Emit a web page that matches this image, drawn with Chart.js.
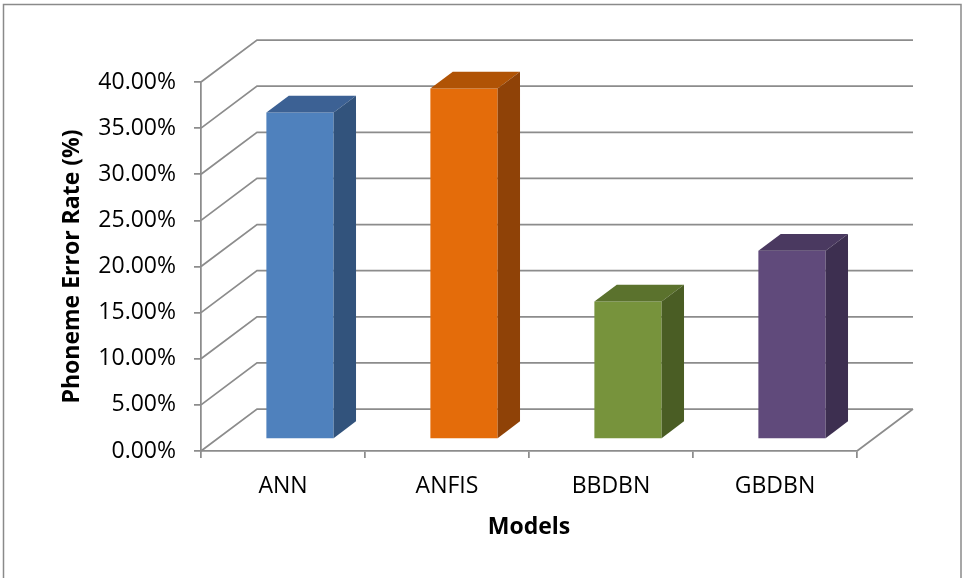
<!DOCTYPE html>
<html>
<head>
<meta charset="utf-8">
<title>Phoneme Error Rate by Model</title>
<script src="https://cdn.jsdelivr.net/npm/chart.js@4.4.0/dist/chart.umd.min.js"></script>
<style>
  html, body { margin: 0; padding: 0; background: #ffffff; }
  canvas { display: block; }
</style>
</head>
<body>
<canvas id="chart" width="964" height="578"></canvas>
<script>
// ---- data ----
const categories = ['ANN', 'ANFIS', 'BBDBN', 'GBDBN'];
const errorRates = [35.4, 38.0, 14.9, 20.4];
const yTickValues = [0, 5, 10, 15, 20, 25, 30, 35, 40];

// ---- styles ----
const frontColors = ['#4F81BD', '#E46C0A', '#77933C', '#604A7B'];
const topColors   = ['#3C6194', '#B05305', '#5B722D', '#4A3960'];
const sideColors  = ['#32537C', '#8F4207', '#4A5D24', '#3D2F50'];
const GRID = '#8c8c8c';
const LINE_W = 1.75;
const FONT = 'Open Sans';

// oblique projection used for the depth axis of the 3-D box
const DEPTH = { x: 56, y: -42 };
const BAR_FRONT = 0.3;   // bars sit in the middle of the depth
const BAR_BACK = 0.7;

const box3d = {
  id: 'box3d',
  beforeDraw(chart) {
    const { ctx } = chart;
    ctx.save();
    ctx.strokeStyle = '#8a8a8a';
    ctx.lineWidth = 1.5;
    ctx.strokeRect(3.5, 4.5, chart.width - 6.5, chart.height + 20);
    ctx.restore();
  },
  beforeDatasetsDraw(chart) {
    const { ctx, chartArea: a, scales: { y } } = chart;
    ctx.save();
    ctx.strokeStyle = GRID;
    ctx.lineWidth = LINE_W;
    ctx.beginPath();
    // side wall diagonals and back wall gridlines
    y.ticks.forEach(t => {
      const py = y.getPixelForValue(t.value);
      ctx.moveTo(a.left, py);
      ctx.lineTo(a.left + DEPTH.x, py + DEPTH.y);
      ctx.lineTo(a.right + DEPTH.x, py + DEPTH.y);
    });
    // right edge of the floor
    ctx.moveTo(a.right, a.bottom);
    ctx.lineTo(a.right + DEPTH.x, a.bottom + DEPTH.y);
    ctx.stroke();
    ctx.restore();

    // front faces of the bars are drawn on the plane inside the box
    ctx.save();
    ctx.translate(Math.round(DEPTH.x * BAR_FRONT), Math.floor(DEPTH.y * BAR_FRONT) + 1);
  },
  afterDatasetsDraw(chart) {
    const { ctx } = chart;
    ctx.restore();
    const ox = Math.round(DEPTH.x * BAR_FRONT);
    const oy = Math.floor(DEPTH.y * BAR_FRONT) + 1;
    const dx = DEPTH.x * (BAR_BACK - BAR_FRONT);
    const dy = DEPTH.y * (BAR_BACK - BAR_FRONT);
    const meta = chart.getDatasetMeta(0);
    meta.data.forEach((bar, i) => {
      const { x, y, base, width } = bar.getProps(['x', 'y', 'base', 'width'], true);
      const l = x - width / 2 + ox, r = x + width / 2 + ox;
      const t = y + oy, b = base + oy;
      // top face
      ctx.fillStyle = topColors[i];
      ctx.beginPath();
      ctx.moveTo(l, t);
      ctx.lineTo(l + dx, t + dy);
      ctx.lineTo(r + dx, t + dy);
      ctx.lineTo(r, t);
      ctx.closePath();
      ctx.fill();
      // right side face
      ctx.fillStyle = sideColors[i];
      ctx.beginPath();
      ctx.moveTo(r, t);
      ctx.lineTo(r + dx, t + dy);
      ctx.lineTo(r + dx, b + dy);
      ctx.lineTo(r, b);
      ctx.closePath();
      ctx.fill();
    });
  }
};

new Chart(document.getElementById('chart'), {
  type: 'bar',
  data: {
    labels: categories,
    datasets: [{
      data: errorRates,
      backgroundColor: frontColors,
      borderWidth: 0,
      categoryPercentage: 1.0,
      barPercentage: 0.41
    }]
  },
  options: {
    responsive: false,
    animation: false,
    devicePixelRatio: 1,
    layout: { padding: { top: 82, right: 107, bottom: 0, left: 0 } },
    plugins: {
      legend: { display: false },
      tooltip: { enabled: false }
    },
    scales: {
      x: {
        type: 'category',
        offset: true,
        afterFit: s => { s.height = 127; },
        grid: {
          display: true,
          offset: true,
          drawOnChartArea: false,
          drawTicks: true,
          tickLength: 7,
          color: GRID,
          lineWidth: LINE_W
        },
        border: { display: true, color: GRID, width: LINE_W },
        ticks: {
          color: '#000000',
          font: { family: FONT, size: 23 },
          padding: 15,
          maxRotation: 0,
          autoSkip: false
        },
        title: {
          display: true,
          text: 'Models',
          color: '#000000',
          font: { family: FONT, size: 23, weight: 'bold' },
          padding: { top: 0, bottom: 37 }
        }
      },
      y: {
        min: 0,
        max: 40,
        afterFit: s => { s.width = 201; },
        afterBuildTicks: s => { s.ticks = yTickValues.map(v => ({ value: v })); },
        grid: {
          display: true,
          drawOnChartArea: false,
          drawTicks: true,
          tickLength: 7,
          color: GRID,
          lineWidth: LINE_W
        },
        border: { display: true, color: GRID, width: LINE_W },
        ticks: {
          color: '#000000',
          font: { family: FONT, size: 23 },
          padding: 18,
          autoSkip: false,
          callback: v => v.toFixed(2) + '%'
        },
        title: {
          display: true,
          text: 'Phoneme Error Rate (%)',
          color: '#000000',
          font: { family: FONT, size: 23, weight: 'bold' },
          padding: { top: 59, bottom: 0 }
        }
      }
    }
  },
  plugins: [box3d]
});
</script>
</body>
</html>
